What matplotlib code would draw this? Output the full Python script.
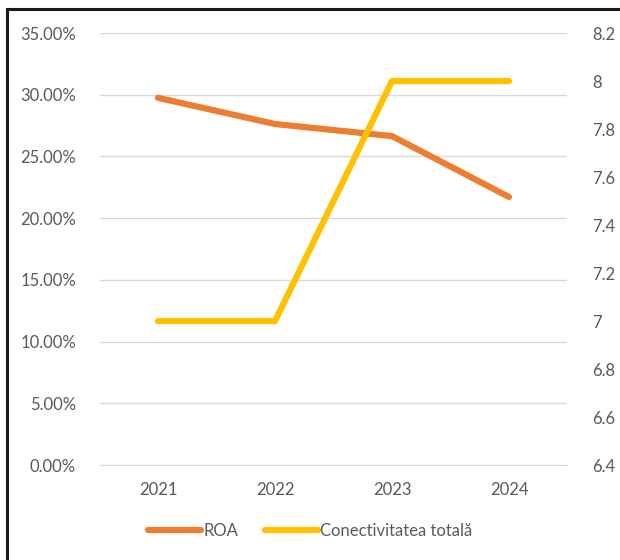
import matplotlib.pyplot as plt
from matplotlib.lines import Line2D
from matplotlib.ticker import FuncFormatter

years = ["2021", "2022", "2023", "2024"]
roa = [0.2975, 0.2763, 0.2665, 0.2172]
conectivitate = [7, 7, 8, 8]

orange = "#ED7D31"
yellow = "#FFC000"
grey = "#595959"

plt.rcParams["font.family"] = ["Lato", "DejaVu Sans"]

fig = plt.figure(figsize=(6.2, 5.6), dpi=100)
ax = fig.add_axes([0.1605, 0.1696, 0.7548, 0.7714])
ax2 = ax.twinx()

x = range(len(years))
ax.plot(x, roa, color=orange, lw=4.5, solid_capstyle="round", solid_joinstyle="round")
ax2.plot(x, conectivitate, color=yellow, lw=4.5, solid_capstyle="round", solid_joinstyle="round")

ax.set_xlim(-0.5, 3.5)
ax.set_ylim(0, 0.35)
ax.set_yticks([i * 0.05 for i in range(8)])
ax.yaxis.set_major_formatter(FuncFormatter(lambda v, p: f"{v * 100:.2f}%"))
ax2.set_ylim(6.4, 8.2)
ax2.set_yticks([6.4, 6.6, 6.8, 7.0, 7.2, 7.4, 7.6, 7.8, 8.0, 8.2])
ax2.yaxis.set_major_formatter(FuncFormatter(lambda v, p: f"{v:g}"))
ax.set_xticks(list(x))
ax.set_xticklabels(years)

ax.grid(axis="y", color="#D9D9D9", lw=1)
ax.set_axisbelow(True)
for a in (ax, ax2):
    for s in a.spines.values():
        s.set_visible(False)
ax.spines["bottom"].set_visible(True)
ax.spines["bottom"].set_color("#D9D9D9")

ax.tick_params(axis="y", length=0, pad=17, labelsize=12, labelcolor=grey)
ax.tick_params(axis="x", length=0, pad=12, labelsize=12, labelcolor=grey)
ax2.tick_params(axis="y", length=0, pad=18, labelsize=12, labelcolor=grey)

handles = [Line2D([], [], color=orange, lw=4.5, solid_capstyle="round"),
           Line2D([], [], color=yellow, lw=4.5, solid_capstyle="round")]
fig.legend(handles, ["ROA", "Conectivitatea totală"], loc="center",
           bbox_to_anchor=(0.5, 0.052), ncol=2, frameon=False, fontsize=12,
           labelcolor=grey, handlelength=3.2, handletextpad=0.1, columnspacing=1.6)

# frame lines on the left and top edges
fig.add_artist(Line2D([0.0105, 0.0105], [0, 0.984], color="#1a1a1a", lw=2.2, transform=fig.transFigure))
fig.add_artist(Line2D([0.0105, 1.0], [0.984, 0.984], color="#1a1a1a", lw=2.2, transform=fig.transFigure))

fig.savefig("out.png", dpi=100)
